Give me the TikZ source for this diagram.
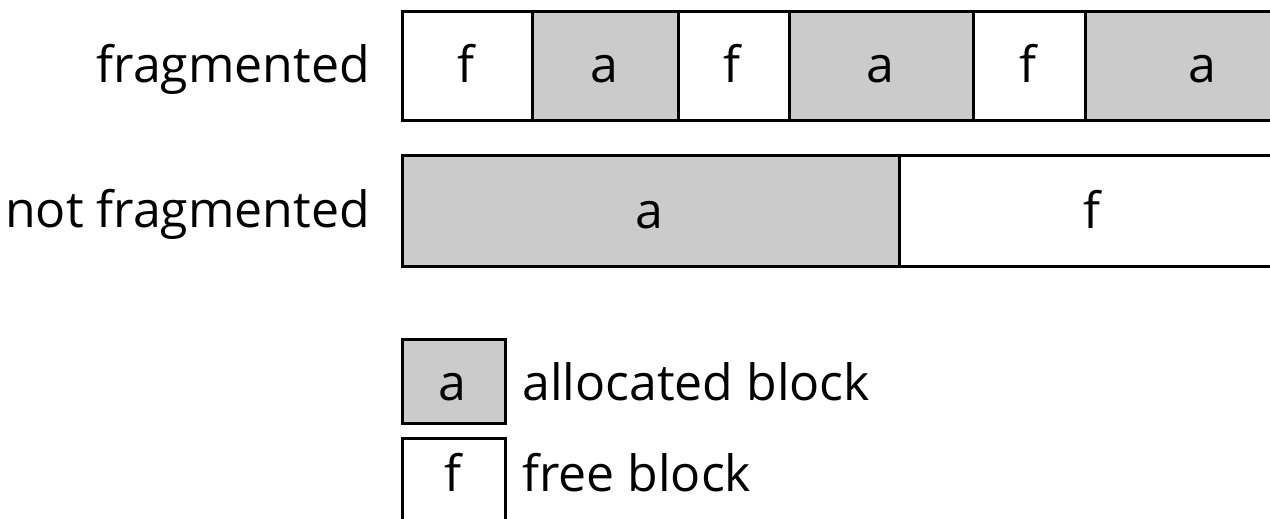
\documentclass[tikz,border=0pt]{standalone}
\usepackage{fontspec}
\setmainfont{Open Sans}
\begin{document}
\begin{tikzpicture}[x=1pt,y=-1pt,
  every node/.style={font=\fontsize{50}{60}\selectfont, inner sep=0pt},
  cell/.style={draw=black, line width=3pt, rectangle, minimum height=#1, anchor=north west},
  cell/.default=109pt,
  alloc/.style={fill=allocgray},
  free/.style={fill=white},
  txt/.style={anchor=base},
  lbl/.style={anchor=base east},
  leg/.style={anchor=base west}]
\definecolor{allocgray}{HTML}{CBCBCB}
\useasboundingbox (0,0) rectangle (1270,519);
\clip (0,0) rectangle (1270,519);
% row 1
\node[cell, free,  minimum width=130pt] (r1a) at (401,10) {};
\node[cell, alloc, minimum width=146pt] (r1b) at (531,10) {};
\node[cell, free,  minimum width=111pt] (r1c) at (677,10) {};
\node[cell, alloc, minimum width=184pt] (r1d) at (788,10) {};
\node[cell, free,  minimum width=112pt] (r1e) at (972,10) {};
\node[cell, alloc, minimum width=200pt] (r1f) at (1084,10) {};
\node[txt] (t1a) at (466,82) {f};
\node[txt] (t1b) at (604,82) {a};
\node[txt] (t1c) at (732,82) {f};
\node[txt] (t1d) at (880,82) {a};
\node[txt] (t1e) at (1028,82) {f};
\node[txt] (t1f) at (1202,82) {a};
% row 2
\node[cell=111pt, alloc, minimum width=497pt] (r2a) at (401,154) {};
\node[cell=111pt, free,  minimum width=390pt] (r2b) at (898,154) {};
\node[txt] (t2a) at (649,228) {a};
\node[txt] (t2b) at (1092,228) {f};
% labels
\node[lbl] (l1) at (370,83) {fragmented};
\node[lbl] (l2) at (370,227) {not fragmented};
% legend
\node[cell=84pt, alloc, minimum width=103pt] (ka) at (401,338) {};
\node[txt] (kal) at (452.5,400) {a};
\node[leg] (kat) at (522,400) {allocated block};
\node[cell=88pt, free, minimum width=103pt] (kf) at (401,437) {};
\node[txt] (kfl) at (452.5,491) {f};
\node[leg] (kft) at (522,491) {free block};
\end{tikzpicture}
\end{document}
